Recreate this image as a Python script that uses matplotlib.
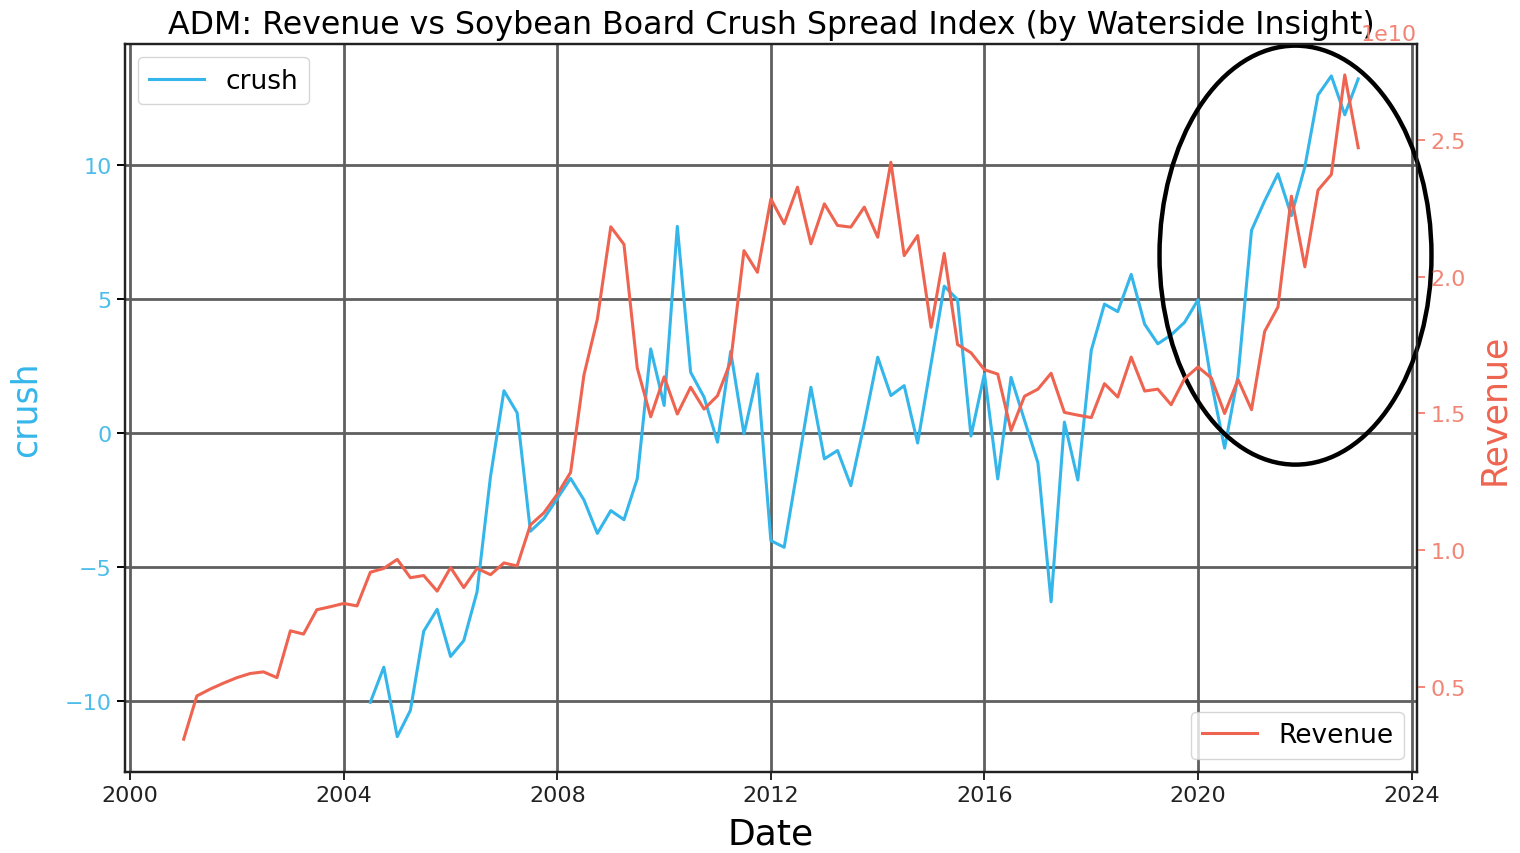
import numpy as np
import pandas as pd
import matplotlib
matplotlib.use("Agg")
import matplotlib.pyplot as plt
import matplotlib.dates as mdates
from matplotlib.patches import Ellipse

# ── Data (quarterly) ──────────────────────────────────────────────────────────
rev_start = "2001-01-01"
# ADM quarterly revenue, in units of 1e10 USD
revenue_e10 = [
    0.310, 0.468, 0.493, 0.515, 0.535, 0.550, 0.556, 0.535,
    0.706, 0.694, 0.783, 0.794, 0.806, 0.797, 0.920, 0.934,
    0.967, 0.900, 0.908, 0.851, 0.937, 0.864, 0.934, 0.911,
    0.954, 0.943, 1.093, 1.137, 1.205, 1.285, 1.640, 1.845,
    2.182, 2.118, 1.666, 1.488, 1.634, 1.498, 1.596, 1.516,
    1.565, 1.690, 2.095, 2.016, 2.284, 2.193, 2.327, 2.120,
    2.266, 2.187, 2.181, 2.254, 2.144, 2.418, 2.077, 2.150,
    1.815, 2.085, 1.752, 1.722, 1.660, 1.644, 1.438, 1.563,
    1.589, 1.647, 1.504, 1.494, 1.485, 1.609, 1.560, 1.706,
    1.582, 1.589, 1.532, 1.627, 1.670, 1.630, 1.500, 1.624,
    1.514, 1.800, 1.889, 2.294, 2.036, 2.316, 2.373, 2.737,
    2.471,
]

crush_start = "2004-07-01"
# Soybean board crush spread index
crush = [
    -10.05, -8.74, -11.33, -10.35, -7.40, -6.58, -8.34, -7.75,
    -5.93, -1.63, 1.57, 0.75, -3.67, -3.20, -2.45, -1.70,
    -2.50, -3.75, -2.90, -3.24, -1.71, 3.13, 1.02, 7.70,
    2.26, 1.33, -0.35, 3.04, -0.04, 2.20, -4.02, -4.27,
    -1.34, 1.70, -0.97, -0.66, -1.97, 0.34, 2.82, 1.39,
    1.76, -0.38, 2.58, 5.47, 4.97, -0.12, 2.20, -1.72,
    2.07, 0.47, -1.12, -6.30, 0.40, -1.76, 3.08, 4.80,
    4.52, 5.91, 4.05, 3.32, 3.65, 4.12, 4.96, 1.89,
    -0.57, 2.12, 7.55, 8.65, 9.66, 8.10, 9.92, 12.60,
    13.31, 11.86, 13.20,
]

rev_dates = pd.date_range(rev_start, periods=len(revenue_e10), freq="QS")
crush_dates = pd.date_range(crush_start, periods=len(crush), freq="QS")
revenue = np.array(revenue_e10) * 1e10

CRUSH_COLOR = "#35b6ea"
REV_COLOR = "#ee6450"
GRID_COLOR = "#5f5f5f"

# ── Plot ──────────────────────────────────────────────────────────────────────
fig = plt.figure(figsize=(15.2, 8.54), dpi=100)
ax = fig.add_axes([0.0822, 0.0948, 0.8500, 0.8525])
ax2 = ax.twinx()

ax.plot(crush_dates, crush, color=CRUSH_COLOR, lw=2.2, label="crush")
ax2.plot(rev_dates, revenue, color=REV_COLOR, lw=2.2, label="Revenue")

ax.set_ylim(-12.65, 14.5)
ax2.set_ylim(0.19e10, 2.85e10)
ax.set_yticks([-10, -5, 0, 5, 10])
ax2.set_yticks([0.5e10, 1.0e10, 1.5e10, 2.0e10, 2.5e10])

ax.xaxis.set_major_locator(mdates.YearLocator(4))
ax.xaxis.set_major_formatter(mdates.DateFormatter("%Y"))

ax.grid(True, color=GRID_COLOR, lw=2.0)
ax2.grid(False)

ax.set_xlabel("Date", fontsize=26, labelpad=8)
ax.set_ylabel("crush", fontsize=25, color=CRUSH_COLOR, labelpad=16)
ax2.set_ylabel("Revenue", fontsize=25, color=REV_COLOR, labelpad=8)
# fixed y so the title is not pushed up above the "1e10" offset text
ax.set_title("ADM: Revenue vs Soybean Board Crush Spread Index (by Waterside Insight)",
             fontsize=22.8, y=1.0, pad=8)

ax.tick_params(axis="x", labelsize=16, length=6, width=1.4, colors="#222222")
ax.tick_params(axis="y", labelsize=16, length=6, width=1.4, labelcolor="#4dbde9")
ax2.tick_params(axis="y", labelsize=16, length=6, width=1.4,
                labelcolor="#f28676", color="#f28676")
ax2.yaxis.get_offset_text().set_fontsize(16)

for a in (ax, ax2):
    for s in a.spines.values():
        s.set_linewidth(1.6)
        s.set_color("#222222")

ax.legend(loc="upper left", fontsize=19, handlelength=2.1, borderpad=0.4)
ax2.legend(loc="lower right", fontsize=19, handlelength=2.1, borderpad=0.4)

# highlight of the recent run-up
ax2.add_patch(Ellipse((0.906, 0.710), 0.2105, 0.5755, transform=ax2.transAxes,
                      fill=False, edgecolor="black", lw=3.2, clip_on=False))

fig.savefig("out.png", dpi=100)
